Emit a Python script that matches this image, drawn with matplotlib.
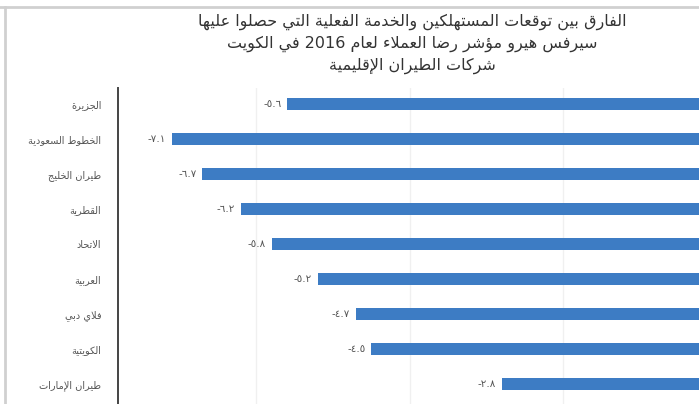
import re
import matplotlib
matplotlib.use("Agg")
import matplotlib.pyplot as plt
from matplotlib.lines import Line2D

# data
airlines = ["الجزيرة", "الخطوط السعودية", "طيران الخليج", "القطرية", "الاتحاد",
            "العربية", "فلاي دبي", "الكويتية", "طيران الإمارات"]
gap = [-5.6, -7.1, -6.7, -6.2, -5.8, -5.2, -4.7, -4.5, -2.8]
title_lines = ["الفارق بين توقعات المستهلكين والخدمة الفعلية التي حصلوا عليها",
               "سيرفس هيرو مؤشر رضا العملاء لعام 2016 في الكويت",
               "شركات الطيران الإقليمية"]

# --- tiny arabic shaper (matplotlib has no bidi / shaping) ---
DUAL = {"ب": 0xFE8F, "ت": 0xFE95, "ث": 0xFE99, "ج": 0xFE9D, "ح": 0xFEA1, "خ": 0xFEA5,
        "س": 0xFEB1, "ش": 0xFEB5, "ص": 0xFEB9, "ض": 0xFEBD, "ط": 0xFEC1, "ظ": 0xFEC5,
        "ع": 0xFEC9, "غ": 0xFECD, "ف": 0xFED1, "ق": 0xFED5, "ك": 0xFED9, "ل": 0xFEDD,
        "م": 0xFEE1, "ن": 0xFEE5, "ه": 0xFEE9, "ي": 0xFEF1, "ئ": 0xFE89}
RIGHT = {"ا": 0xFE8D, "أ": 0xFE83, "إ": 0xFE87, "آ": 0xFE81, "ة": 0xFE93, "د": 0xFEA9,
         "ذ": 0xFEAB, "ر": 0xFEAD, "ز": 0xFEAF, "و": 0xFEED, "ى": 0xFEEF, "ؤ": 0xFE85}
LAMALEF = {"ا": 0xFEFB, "أ": 0xFEF7, "إ": 0xFEF9, "آ": 0xFEF5}


def shape(s):
    out = []
    i = 0
    chars = list(s)
    while i < len(chars):
        c = chars[i]
        prev = chars[i - 1] if i > 0 else ""
        joins_prev = prev in DUAL and out and not out[-1].startswith("~")
        if c == "ل" and i + 1 < len(chars) and chars[i + 1] in LAMALEF:
            base = LAMALEF[chars[i + 1]]
            out.append(chr(base + (1 if joins_prev else 0)))
            out.append("~")  # ligature ends a joining run
            i += 2
            continue
        nxt = chars[i + 1] if i + 1 < len(chars) else ""
        joins_next = nxt in DUAL or nxt in RIGHT
        if c in DUAL:
            if joins_prev and joins_next:
                out.append(chr(DUAL[c] + 3))
            elif joins_next:
                out.append(chr(DUAL[c] + 2))
            elif joins_prev:
                out.append(chr(DUAL[c] + 1))
            else:
                out.append(chr(DUAL[c]))
        elif c in RIGHT:
            out.append(chr(RIGHT[c] + (1 if joins_prev else 0)))
        else:
            out.append(c)
        i += 1
    txt = "".join(o for o in out if o != "~")
    txt = txt[::-1]
    return re.sub(r"[0-9A-Za-z.]+", lambda m: m.group(0)[::-1], txt)


def indic(v):
    return "{:.1f}".format(v).translate(str.maketrans("0123456789", "٠١٢٣٤٥٦٧٨٩"))


plt.rcParams["font.family"] = ["DejaVu Sans"]

fig = plt.figure(figsize=(6.99, 4.04), dpi=100)
ax = fig.add_axes([118 / 699, 0, 1 - 118 / 699, 1 - 88 / 404])

pos = list(range(len(gap)))
ax.barh(pos, gap, height=0.36, color="#3d7cc4", zorder=2)
for p, v in zip(pos, gap):
    ax.annotate(indic(v), (v, p), xytext=(-4, 0), textcoords="offset points",
                ha="right", va="center", fontsize=7.5, color="#555555")

ax.set_xlim(-7.80, -0.23)
ax.set_ylim(8.57, -0.46)
ax.set_yticks(pos)
ax.set_yticklabels([shape(a) for a in airlines], fontsize=7, color="#555555")
ax.tick_params(axis="y", length=0, pad=12)
ax.set_xticks([-6, -4, -2])
ax.tick_params(axis="x", length=0, labelbottom=False)
ax.grid(axis="x", color="#f0f0f0", lw=1, zorder=0)
for s in ["top", "right", "bottom"]:
    ax.spines[s].set_visible(False)
ax.spines["left"].set_color("#444444")
ax.spines["left"].set_linewidth(1.4)

for k, line in enumerate(title_lines):
    fig.text(412 / 699, 1 - (22 + 22 * k) / 404, shape(line), ha="center", va="center",
             fontsize=11.5, color="#333333")

# light frame of the original screenshot
fig.add_artist(Line2D([0, 1], [1 - 7 / 404] * 2, color="#d0d0d0", lw=2))
fig.add_artist(Line2D([5 / 699] * 2, [0, 1 - 7 / 404], color="#d0d0d0", lw=2))

fig.savefig("out.png", dpi=100)
